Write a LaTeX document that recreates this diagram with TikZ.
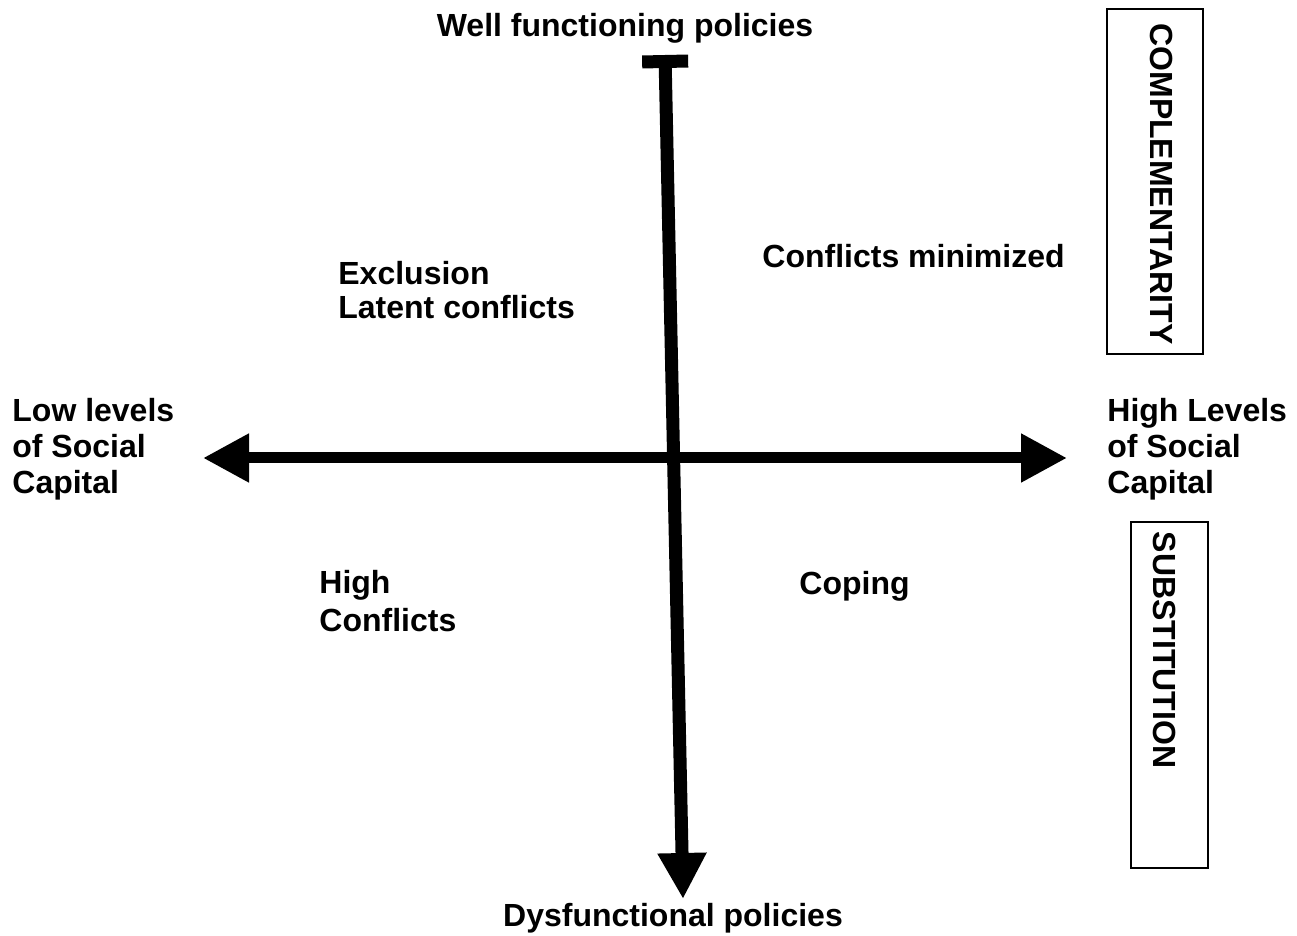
\documentclass[tikz,border=0pt]{standalone}
\usepackage{fontspec}
\setmainfont{Liberation Sans}
\usetikzlibrary{arrows.meta}

\begin{document}
\begin{tikzpicture}
    [x=0.5pt, y=-0.5pt,
    every node/.style={font=\bfseries\fontsize{16}{18}\selectfont, inner sep=0pt},
    lbl/.style={anchor=base west, align=left},
    vaxis/.style={line width=6.5pt, {Bar[width=23pt,length=4pt]}-{Triangle[width=23pt,length=23pt]}},
    haxis/.style={line width=5.5pt, {Triangle[width=23pt,length=23pt]}-{Triangle[width=23pt,length=23pt]}},
    panel/.style={draw, line width=1pt, minimum width=#1},
    turned/.style={rotate=-90}]
     \useasboundingbox (0,0) rectangle (1297,936);
     % axes
     \coordinate (vtop) at (665, 55);
     \coordinate (vbot) at (683, 899);
     \coordinate (hleft) at (203, 458);
     \coordinate (hright) at (1067, 458);
     \draw[vaxis] (vtop) -- (vbot);
     \draw[haxis] (hleft) -- (hright);
     % axis labels
     \node[anchor=base] (well) at (625, 37)   {Well functioning policies};
     \node[anchor=base] (dys) at (673, 926)   {Dysfunctional policies};
     \node[lbl] (low) at (12, 494)            {Low levels\\of Social\\Capital};
     \node[lbl] (high) at (1107, 494)         {High Levels\\of Social\\Capital};
     % quadrants
     \node[lbl, font=\bfseries\fontsize{16}{17}\selectfont] (excl) at (338, 319) {Exclusion\\Latent conflicts};
     \node[lbl] (min) at (762, 268)           {Conflicts minimized};
     \node[lbl, font=\bfseries\fontsize{16}{19}\selectfont] (hc) at (319, 631) {High\\Conflicts};
     \node[lbl] (cop) at (799, 594)           {Coping};
     % side boxes
     \node[panel=48pt, minimum height=172.5pt] (compbox) at (1155, 181.5) {};
     \node[turned] (comp) at (1162, 184)      {COMPLEMENTARITY};
     \node[panel=38.5pt, minimum height=173pt] (subbox) at (1169.5, 695) {};
     \node[turned] (sub) at (1165, 650)       {SUBSTITUTION};
\end{tikzpicture}
\end{document}
